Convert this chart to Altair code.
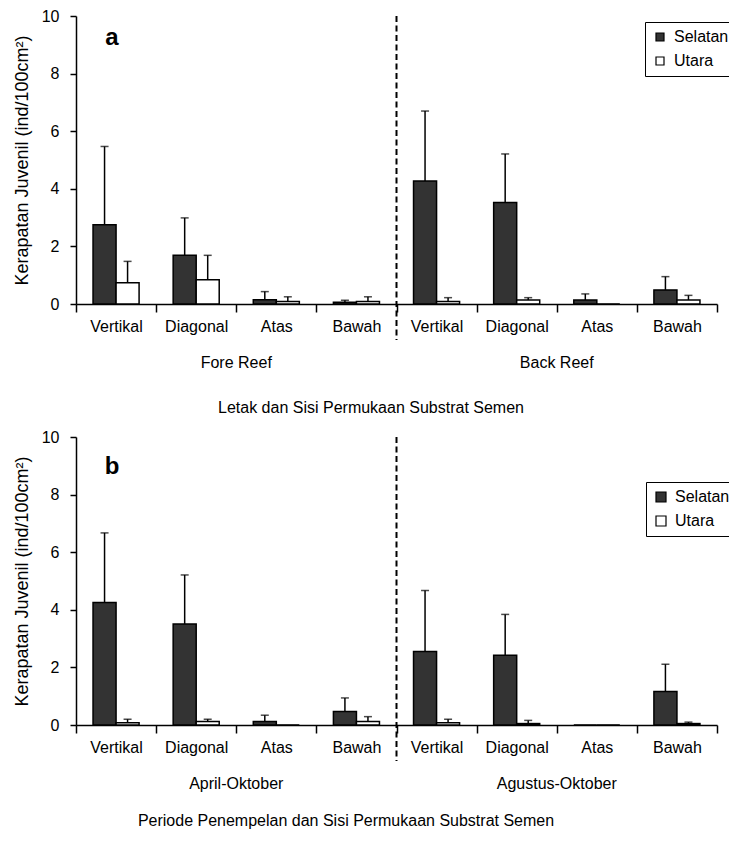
import altair as alt
import pandas as pd

surfaces = ["Vertikal", "Diagonal", "Atas", "Bawah"]
series = ["Selatan", "Utara"]

# Panel a: Fore Reef / Back Reef
groups_a = ["Fore Reef", "Back Reef"]
a_selatan_mean = [2.75, 1.69, 0.15, 0.06, 4.27, 3.52, 0.14, 0.49]
a_selatan_sd = [2.72, 1.30, 0.28, 0.07, 2.43, 1.69, 0.21, 0.46]
a_utara_mean = [0.74, 0.84, 0.09, 0.09, 0.09, 0.14, 0.00, 0.14]
a_utara_sd = [0.74, 0.85, 0.16, 0.16, 0.13, 0.08, 0.00, 0.16]

# Panel b: April-Oktober / Agustus-Oktober
groups_b = ["April-Oktober", "Agustus-Oktober"]
b_selatan_mean = [4.25, 3.51, 0.12, 0.47, 2.55, 2.42, 0.00, 1.16]
b_selatan_sd = [2.42, 1.70, 0.22, 0.47, 2.12, 1.42, 0.00, 0.95]
b_utara_mean = [0.08, 0.12, 0.00, 0.12, 0.08, 0.05, 0.00, 0.05]
b_utara_sd = [0.12, 0.08, 0.00, 0.17, 0.12, 0.11, 0.00, 0.05]

y_ticks = [0, 2, 4, 6, 8, 10]
y_title = "Kerapatan  Juvenil  (ind/100cm²)"
FONT = "Liberation Sans"
W, H = 641, 288


def panel(groups, sm, ssd, um, usd, letter, xtitle, title_x, title_y,
          leg_x, leg_y, letter_y, sym_size):
    keys = [f"{g}|{s}" for g in groups for s in surfaces]
    rows = []
    for i, k in enumerate(keys):
        rows.append({"key": k, "series": "Selatan", "mean": sm[i],
                     "upper": sm[i] + ssd[i], "sd": ssd[i]})
        rows.append({"key": k, "series": "Utara", "mean": um[i],
                     "upper": um[i] + usd[i], "sd": usd[i]})
    df = pd.DataFrame(rows)
    err = df[df["sd"] > 0]

    xscale = alt.Scale(domain=keys, paddingInner=0, paddingOuter=0)
    xaxis = alt.Axis(title=None, labelAngle=0, tickBand="extent", tickSize=8,
                     tickWidth=1.5, tickColor="black", domainColor="black",
                     domainWidth=1.5, labelFontSize=16, labelColor="black",
                     labelFont=FONT, labelPadding=6,
                     labelExpr="split(datum.label, '|')[1]")
    x = alt.X("key:N", scale=xscale, axis=xaxis, sort=keys)
    xoff = alt.XOffset("series:N", scale=alt.Scale(domain=series,
                       paddingInner=0, paddingOuter=0.74))
    yscale = alt.Scale(domain=[0, 10], nice=False)
    yaxis = alt.Axis(values=y_ticks, grid=False, tickSize=6, tickWidth=1.5,
                     tickColor="black", domainColor="black", domainWidth=1.5,
                     labelFontSize=16, labelColor="black", labelFont=FONT,
                     labelPadding=11, title=y_title, titleFontSize=18,
                     titleFontWeight="normal", titleFont=FONT,
                     titleColor="black", titlePadding=10)
    y = alt.Y("mean:Q", scale=yscale, axis=yaxis)

    color = alt.Color("series:N",
                      scale=alt.Scale(domain=series, range=["#333333", "#ffffff"]),
                      legend=alt.Legend(title=None, orient="none",
                                        legendX=leg_x, legendY=leg_y,
                                        strokeColor="black", padding=7,
                                        symbolType="square", symbolSize=sym_size,
                                        symbolStrokeColor="black",
                                        symbolStrokeWidth=1.2,
                                        labelFontSize=16, labelFont=FONT,
                                        labelColor="black", rowPadding=8,
                                        labelOffset=6))

    bars = alt.Chart(df).mark_bar(stroke="black", strokeWidth=1.5).encode(
        x=x, xOffset=xoff, y=y, color=color)

    rule = alt.Chart(err).mark_rule(color="black", strokeWidth=1.5).encode(
        x=x, xOffset=xoff, y=alt.Y("mean:Q", scale=yscale, axis=yaxis),
        y2="upper:Q")
    cap = alt.Chart(err).mark_tick(color="black", thickness=1.5, size=8).encode(
        x=x, xOffset=xoff, y=alt.Y("upper:Q", scale=yscale, axis=yaxis))

    div = alt.Chart(pd.DataFrame({"key": [keys[4]]})).mark_rule(
        color="black", strokeWidth=2, strokeDash=[6, 3.5]).encode(
        x=alt.X("key:N", scale=xscale, axis=xaxis, sort=keys, bandPosition=0),
        y=alt.value(0), y2=alt.value(H + 36))

    glab = pd.DataFrame({"key": [keys[1], keys[5]], "label": groups})
    gtext = alt.Chart(glab).mark_text(fontSize=16, font=FONT, color="black",
                                      baseline="middle").encode(
        x=alt.X("key:N", scale=xscale, axis=xaxis, sort=keys, bandPosition=1),
        y=alt.value(H + 59), text="label:N")

    ttext = alt.Chart(pd.DataFrame({"t": [xtitle]})).mark_text(
        fontSize=16, font=FONT, color="black", baseline="middle").encode(
        x=alt.value(title_x), y=alt.value(title_y), text="t:N")

    ltext = alt.Chart(pd.DataFrame({"t": [letter]})).mark_text(
        fontSize=24, font=FONT, fontWeight="bold", color="black",
        baseline="alphabetic").encode(
        x=alt.value(36), y=alt.value(letter_y), text="t:N")

    return alt.layer(bars, rule, cap, div, gtext, ttext, ltext).properties(
        width=W, height=H)


top = panel(groups_a, a_selatan_mean, a_selatan_sd, a_utara_mean, a_utara_sd,
            "a", "Letak dan Sisi Permukaan Substrat Semen", 295, 392,
            569, 6, 29, 64)
bottom = panel(groups_b, b_selatan_mean, b_selatan_sd, b_utara_mean, b_utara_sd,
               "b", "Periode Penempelan dan Sisi Permukaan Substrat Semen", 270, 384,
               570, 45, 37, 100)

chart = alt.vconcat(top, bottom, spacing=13).resolve_scale(
    color="independent", x="independent", y="independent", xOffset="independent"
).resolve_legend(color="independent").properties(
    padding={"left": 5, "top": 0, "right": -9, "bottom": 0}
).configure_view(stroke=None)

chart.save("out.html", embed_options={"renderer": "svg", "actions": False})
